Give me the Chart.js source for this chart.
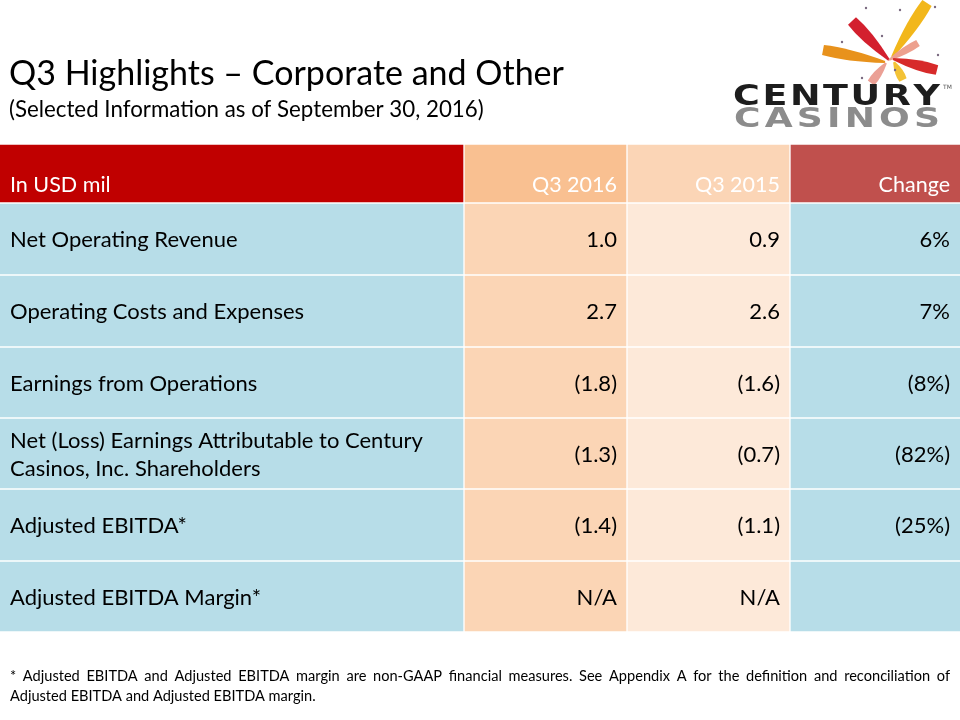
<!DOCTYPE html>
<html>
<head>
<meta charset="utf-8">
<script src="https://cdn.jsdelivr.net/npm/chart.js@4.4.1/dist/chart.umd.min.js"></script>
<style>
  html, body { margin: 0; padding: 0; background: #fff; }
  #wrap { width: 960px; height: 720px; }
</style>
</head>
<body>
<div id="wrap"><canvas id="slide" width="960" height="720"></canvas></div>
<script>
// 표 데이터
const headers = ['In USD mil', 'Q3 2016', 'Q3 2015', 'Change'];
const rowLabels = [
    'Net Operating Revenue',
    'Operating Costs and Expenses',
    'Earnings from Operations',
    ['Net (Loss) Earnings Attributable to Century', 'Casinos, Inc. Shareholders'],
    'Adjusted EBITDA*',
    'Adjusted EBITDA Margin*'
];
const q3_2016 = ['1.0', '2.7', '(1.8)', '(1.3)', '(1.4)', 'N/A'];
const q3_2015 = ['0.9', '2.6', '(1.6)', '(0.7)', '(1.1)', 'N/A'];
const change = ['6%', '7%', '(8%)', '(82%)', '(25%)', ''];

const titleText = 'Q3 Highlights \u2013 Corporate and Other';
const subtitleText = '(Selected Information as of September 30, 2016)';
const footLine1 = '* Adjusted EBITDA and Adjusted EBITDA margin are non-GAAP financial measures. See Appendix A for the definition and reconciliation of';
const footLine2 = 'Adjusted EBITDA and Adjusted EBITDA margin.';

// 레이아웃 (축 단위 = 픽셀)
const colEdges = [0, 464, 627, 790, 960];
const rowEdges = [144, 203, 275, 347, 418, 489, 561, 632];
const GAP = 1;

const headerColors = ['#C00000', '#F9C091', '#FBD5B6', '#C0504D'];
const bodyColors = ['#B7DDE8', '#FBD5B5', '#FDE9D9', '#B7DDE8'];
const FONT = 'Lato, "Open Sans", sans-serif';

const bodyColumns = [rowLabels, q3_2016, q3_2015, change];

// 셀 하나 = 가로 막대 하나
function cellData(row, col) {
    const r0 = rowEdges[row] + GAP, r1 = rowEdges[row + 1] - GAP;
    const c0 = colEdges[col] + (col === 0 ? 0 : GAP);
    const c1 = colEdges[col + 1] - (col === colEdges.length - 2 ? 0 : GAP);
    return { y: (r0 + r1) / 2, x: [c0, c1] };
}

const datasets = [];
// 헤더 행
datasets.push({
    label: 'header',
    data: headers.map((h, c) => cellData(0, c)),
    backgroundColor: headerColors,
    barThickness: rowEdges[1] - rowEdges[0] - 2 * GAP
});
// 본문 열 (행마다 높이가 조금씩 달라서 행 단위 dataset)
rowLabels.forEach((r, i) => {
    datasets.push({
        label: 'row' + i,
        data: bodyColumns.map((col, c) => cellData(i + 1, c)),
        backgroundColor: bodyColors,
        barThickness: rowEdges[i + 2] - rowEdges[i + 1] - 2 * GAP
    });
});

const tablePlugin = {
    id: 'tableText',
    afterDatasetsDraw(chart) {
        const ctx = chart.ctx;
        const xs = chart.scales.x, ys = chart.scales.y;
        const px = v => xs.getPixelForValue(v);
        const py = v => ys.getPixelForValue(v);
        ctx.save();

        // 헤더 텍스트 (아래쪽 정렬)
        ctx.font = '21.5px ' + FONT;
        ctx.fillStyle = '#ffffff';
        ctx.textBaseline = 'alphabetic';
        headers.forEach((h, c) => {
            const base = py(rowEdges[1]) - 11;
            if (c === 0) {
                ctx.textAlign = 'left';
                ctx.fillText(h, px(colEdges[0]) + 10, base);
            } else {
                ctx.textAlign = 'right';
                ctx.fillText(h, px(colEdges[c + 1]) - 10, base);
            }
        });

        // 본문 텍스트
        ctx.font = '22px ' + FONT;
        ctx.fillStyle = '#000000';
        ctx.textBaseline = 'middle';
        bodyColumns.forEach((col, c) => {
            col.forEach((v, i) => {
                const mid = (py(rowEdges[i + 1]) + py(rowEdges[i + 2])) / 2;
                const lines = Array.isArray(v) ? v : [v];
                const lh = 28;
                lines.forEach((line, k) => {
                    const y = mid + (k - (lines.length - 1) / 2) * lh + 1;
                    if (c === 0) {
                        ctx.textAlign = 'left';
                        ctx.fillText(line, px(colEdges[0]) + 10, y);
                    } else {
                        ctx.textAlign = 'right';
                        ctx.fillText(line, px(colEdges[c + 1]) - 10, y);
                    }
                });
            });
        });
        ctx.restore();
    },
    afterDraw(chart) {
        const ctx = chart.ctx;
        ctx.save();
        // 제목
        ctx.fillStyle = '#000000';
        ctx.textAlign = 'left';
        ctx.textBaseline = 'alphabetic';
        ctx.font = '34px ' + FONT;
        ctx.fillText(titleText, 9, 85);
        ctx.font = '22.3px ' + FONT;
        ctx.fillText(subtitleText, 9, 117);

        // 각주 (첫 줄 양쪽 정렬)
        ctx.font = '14.6px ' + FONT;
        drawJustified(ctx, footLine1, 10, 950, 681);
        ctx.fillText(footLine2, 10, 701);

        drawLogo(ctx);
        ctx.restore();
    }
};

function drawJustified(ctx, text, x0, x1, y) {
    const words = text.split(' ');
    const total = words.reduce((s, w) => s + ctx.measureText(w).width, 0);
    const gap = (x1 - x0 - total) / (words.length - 1);
    let x = x0;
    words.forEach(w => {
        ctx.fillText(w, x, y);
        x += ctx.measureText(w).width + gap;
    });
}

function brush(ctx, x0, y0, x1, y1, w0, w1, color) {
    const dx = x1 - x0, dy = y1 - y0;
    const len = Math.hypot(dx, dy);
    const nx = -dy / len, ny = dx / len;
    const mx = x0 + dx * 0.6, my = y0 + dy * 0.6;
    ctx.fillStyle = color;
    ctx.beginPath();
    ctx.moveTo(x0 + nx * w0 / 2, y0 + ny * w0 / 2);
    ctx.quadraticCurveTo(mx + nx * w1 * 0.7, my + ny * w1 * 0.7, x1 + nx * w1 / 2, y1 + ny * w1 / 2);
    ctx.lineTo(x1 - nx * w1 / 2, y1 - ny * w1 / 2);
    ctx.quadraticCurveTo(mx - nx * w1 * 0.7, my - ny * w1 * 0.7, x0 - nx * w0 / 2, y0 - ny * w0 / 2);
    ctx.closePath();
    ctx.fill();
}

function drawLogo(ctx) {
    // 붓 터치 모양
    brush(ctx, 889, 60, 852, 21, 2, 11, '#D3202E');
    brush(ctx, 892, 57, 927, 3, 2, 11, '#F2B71B');
    brush(ctx, 885, 62, 823, 50, 2, 10, '#E8921C');
    brush(ctx, 889, 60, 918, 43, 2, 7, '#EDA08E');
    brush(ctx, 893, 59, 937, 70, 2, 10, '#D72A2A');
    brush(ctx, 894, 62, 903, 80, 2, 8, '#F3C236');
    brush(ctx, 886, 63, 871, 83, 2, 8, '#EBA095');
    ctx.fillStyle = '#7a6a80';
    [[866, 8], [900, 10], [935, 7], [842, 42], [938, 55], [895, 70], [862, 78], [882, 36]].forEach(p => {
        ctx.beginPath();
        ctx.arc(p[0], p[1], 1.2, 0, Math.PI * 2);
        ctx.fill();
    });

    // 로고 글자
    ctx.textAlign = 'left';
    ctx.textBaseline = 'alphabetic';
    drawStretched(ctx, 'CENTURY', 733, 105, 207, 'bold 28px "DejaVu Sans"', '#1d1d1d', 2);
    drawStretched(ctx, 'CASINOS', 734, 127, 206, 'bold 26px "DejaVu Sans"', '#8c8c8c', 3);
    ctx.font = '6px "DejaVu Sans"';
    ctx.fillStyle = '#555';
    ctx.fillText('TM', 943, 89);
}

function drawStretched(ctx, text, x, y, width, font, color, spacing) {
    ctx.save();
    ctx.font = font;
    ctx.fillStyle = color;
    const letters = text.split('');
    const base = letters.reduce((s, l) => s + ctx.measureText(l).width, 0) + spacing * (letters.length - 1);
    const sx = width / base;
    ctx.translate(x, y);
    ctx.scale(sx, 1);
    let cx = 0;
    letters.forEach(l => {
        ctx.fillText(l, cx, 0);
        cx += ctx.measureText(l).width + spacing;
    });
    ctx.restore();
}

new Chart(document.getElementById('slide'), {
    type: 'bar',
    data: { datasets },
    options: {
        responsive: false,
        animation: false,
        devicePixelRatio: 1,
        indexAxis: 'y',
        layout: { padding: 0 },
        datasets: { bar: { grouped: false, borderWidth: 0, borderSkipped: false } },
        scales: {
            x: { type: 'linear', min: 0, max: 960, display: false, offset: false },
            y: { type: 'linear', min: 0, max: 720, reverse: true, display: false, offset: false }
        },
        plugins: {
            legend: { display: false },
            tooltip: { enabled: false },
            title: { display: false }
        }
    },
    plugins: [tablePlugin]
});
</script>
</body>
</html>
